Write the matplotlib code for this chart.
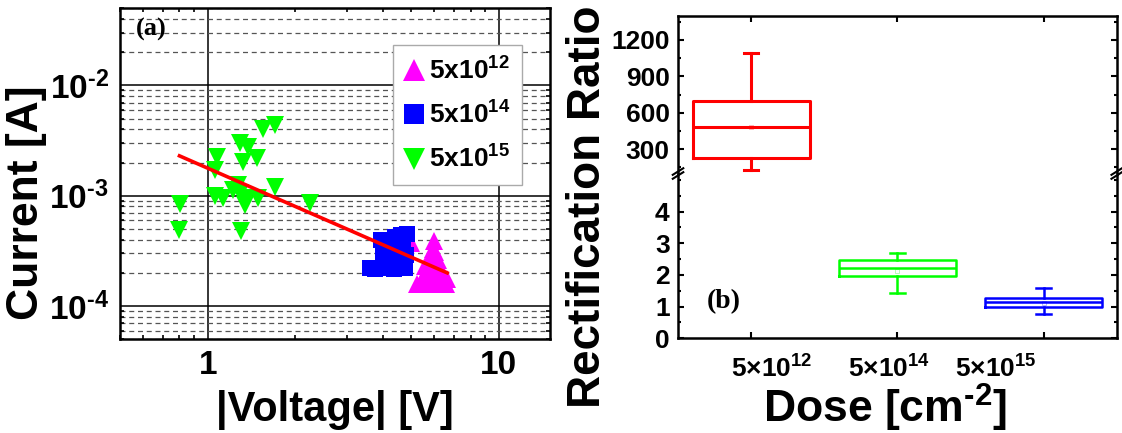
import numpy as np
import matplotlib
matplotlib.use('Agg')
import matplotlib.pyplot as plt
import matplotlib.transforms as mtransforms
from matplotlib.ticker import FixedLocator, LogLocator, MultipleLocator, NullFormatter, FuncFormatter

plt.rcParams['font.family'] = ['Liberation Sans', 'DejaVu Sans']
plt.rcParams['font.weight'] = 'bold'
plt.rcParams['mathtext.fontset'] = 'custom'
plt.rcParams['mathtext.rm'] = 'Liberation Sans:bold'
plt.rcParams['mathtext.it'] = 'Liberation Sans:bold'
plt.rcParams['mathtext.bf'] = 'Liberation Sans:bold'
plt.rcParams['mathtext.default'] = 'rm'

# ---- (a) |V| vs current ----
v_12 = [6.0, 5.95, 6.05, 5.8, 6.2, 5.6, 6.3, 5.9, 6.4, 5.5, 5.7, 6.0, 6.5, 6.3, 5.4, 6.6, 5.0, 6.1,
        5.25, 6.65]
i_12 = [3.9e-4, 3.3e-4, 3.1e-4, 2.7e-4, 2.6e-4, 2.3e-4, 2.2e-4, 2.1e-4, 1.9e-4, 1.8e-4,
        1.6e-4, 1.7e-4, 1.6e-4, 1.65e-4, 1.65e-4, 1.6e-4, 3.75e-4, 2.0e-4,
        1.6e-4, 1.75e-4]

v_14 = [3.6, 3.75, 3.95, 4.0, 4.0, 4.1, 4.2, 4.3, 4.35, 4.4, 4.5, 4.6, 4.7, 4.75, 4.85, 4.8, 3.95, 4.2]
i_14 = [2.2e-4, 2.15e-4, 2.2e-4, 2.9e-4, 3.6e-4, 2.5e-4, 3.9e-4, 3.2e-4, 2.15e-4, 4.2e-4,
        2.7e-4, 4.4e-4, 3.5e-4, 2.2e-4, 4.5e-4, 2.9e-4, 4.0e-4, 2.8e-4]

v_15 = [0.806, 0.80, 1.08, 1.06, 1.06, 1.13, 1.29, 1.38, 1.32, 1.48, 1.55, 1.70,
        1.27, 1.36, 1.34, 1.49, 1.70, 1.30, 2.25, 1.22, 1.29]
i_15 = [8.4e-4, 4.85e-4, 2.23e-3, 1.71e-3, 1.0e-3, 9.5e-4, 2.98e-3, 2.78e-3, 2.03e-3, 2.18e-3,
        4.07e-3, 4.35e-3, 1.25e-3, 9.5e-4, 8.3e-4, 9.5e-4, 1.19e-3, 4.75e-4, 8.6e-4, 1.13e-3, 1.05e-3]

fit_v = [0.80, 6.65]
fit_i = [2.3e-3, 2.0e-4]

# ---- (b) rectification ratio box plots ----
doses = ['5×10$^{12}$', '5×10$^{14}$', '5×10$^{15}$']
box_colors = ['#ff0000', '#00ff00', '#0000ff']
whis_lo = [131, 1.42, 0.76]
q1 = [224, 1.98, 1.00]
med = [482, 2.21, 1.14]
q3 = [695, 2.46, 1.28]
whis_hi = [1096, 2.70, 1.60]
means = [482, 2.13, 1.10]
box_lw = [2.2, 1.8, 1.8]
label_shift_px = [21, -8, -48]  # the original's dose labels sit off their ticks

HY = '\u2010'  # short hyphen for superscripts

fig = plt.figure(figsize=(11.22, 4.33), dpi=100)

# ---------------- panel (a) ----------------
ax = fig.add_axes([0.1070, 0.2164, 0.3832, 0.7644])
ax.plot(v_12, i_12, ls='none', marker='^', ms=13, mew=0, color='#ff00ff', label='5x10$^{12}$')
ax.plot(v_14, i_14, ls='none', marker='s', ms=11, mew=0, color='#0000ff', label='5x10$^{14}$')
ax.plot(v_15, i_15, ls='none', marker='v', ms=13, mew=0, color='#00ff00', label='5x10$^{15}$')
ax.plot(fit_v, fit_i, color='#ff0000', lw=2.6, zorder=5)
ax.set_xscale('log')
ax.set_yscale('log')
ax.set_xlim(0.5, 15)
ax.set_ylim(5e-5, 5e-2)
ax.xaxis.set_major_locator(FixedLocator([1, 10]))
ax.xaxis.set_major_formatter(FuncFormatter(lambda v, p: '%g' % v))
ax.xaxis.set_minor_locator(LogLocator(base=10, subs=np.arange(2, 10), numticks=20))
ax.xaxis.set_minor_formatter(NullFormatter())
ax.yaxis.set_major_locator(LogLocator(base=10, numticks=10))
ax.yaxis.set_major_formatter(FuncFormatter(
    lambda v, p: '10$^{%s%d}$' % (HY, abs(round(np.log10(v))))))
ax.yaxis.set_minor_locator(LogLocator(base=10, subs=np.arange(2, 10), numticks=20))
ax.yaxis.set_minor_formatter(NullFormatter())
ax.grid(True, which='major', color='black', lw=1.1)
ax.yaxis.grid(True, which='minor', color='#555555', lw=0.9, ls=(0, (4, 3)))
ax.set_axisbelow(True)
ax.tick_params(which='both', direction='in', top=True, right=True, labelsize=24)
ax.tick_params(which='major', length=0, pad=8)
ax.tick_params(which='minor', length=3, width=1.2)
for s in ax.spines.values():
    s.set_linewidth(1.8)
ax.text(0.036, 0.935, '(a)', transform=ax.transAxes, fontsize=19, fontweight='bold',
        family='Liberation Serif', va='center', ha='left')
leg = ax.legend(loc='upper left', bbox_to_anchor=(0.635, 0.889), borderaxespad=0,
                fontsize=19, frameon=True, fancybox=False, framealpha=1, edgecolor='#aaaaaa',
                handlelength=0.7, handletextpad=0.2, labelspacing=0.65, borderpad=0.45,
                markerscale=1.25)
leg.get_frame().set_linewidth(1.0)
fig.text(335 / 1122, 1 - 410 / 433, '|Voltage| [V]', fontsize=30, fontweight='bold',
         ha='center', va='center')
fig.text(27 / 1122, 1 - 203 / 433, 'Current [A]', fontsize=32, fontweight='bold',
         ha='center', va='center', rotation=90)

# ---------------- panel (b) ----------------
ax_hi = fig.add_axes([0.6043, 0.5993, 0.3910, 0.3644])
ax_lo = fig.add_axes([0.6043, 0.2187, 0.3910, 0.3806])
pos = [1, 2, 3]
for a in (ax_hi, ax_lo):
    for k in range(3):
        st = [dict(whislo=whis_lo[k], q1=q1[k], med=med[k], q3=q3[k], whishi=whis_hi[k],
                   mean=means[k], fliers=[])]
        c = box_colors[k]
        lw = box_lw[k]
        a.bxp(st, positions=[pos[k]], widths=0.8, capwidths=0.1, showmeans=True,
              boxprops=dict(color=c, lw=lw), whiskerprops=dict(color=c, lw=lw),
              capprops=dict(color=c, lw=lw), medianprops=dict(color=c, lw=lw),
              meanprops=dict(marker='s', ms=2.5, mfc='none', mec=c, mew=0.4, alpha=0.5))
    a.set_xlim(0.5, 3.5)
    a.tick_params(which='both', direction='in', top=True, right=True, labelsize=19, width=1.5)
    a.tick_params(which='major', length=4, pad=6)
    a.tick_params(which='minor', length=2.5)
    for s in a.spines.values():
        s.set_linewidth(1.8)

ax_hi.set_ylim(100, 1400)
ax_hi.yaxis.set_major_locator(FixedLocator([300, 600, 900, 1200]))
ax_hi.yaxis.set_minor_locator(MultipleLocator(150))
ax_hi.spines['bottom'].set_visible(False)
ax_hi.tick_params(axis='x', which='both', bottom=False, labelbottom=False)
ax_hi.set_xticks(pos)

ax_lo.set_ylim(0, 5.2)
ax_lo.yaxis.set_major_locator(FixedLocator([0, 1, 2, 3, 4]))
ax_lo.yaxis.set_minor_locator(MultipleLocator(0.5))
ax_lo.spines['top'].set_visible(False)
ax_lo.tick_params(axis='x', which='both', top=False)
ax_lo.set_xticks(pos)
ax_lo.set_xticklabels(doses, fontsize=19)
ax_lo.tick_params(axis='x', pad=12)
for lab, dx in zip(ax_lo.get_xticklabels(), label_shift_px):
    lab.set_transform(lab.get_transform() +
                      mtransforms.ScaledTranslation(dx / 100, 0, fig.dpi_scale_trans))

# break marks
for xb in (0, 1):
    for dy in (-0.012, 0.012):
        ax_lo.plot([xb - 0.012, xb + 0.012], [1 + dy - 0.02, 1 + dy + 0.02],
                   transform=ax_lo.transAxes, color='black', lw=1.5, clip_on=False)

ax_lo.text(0.066, 0.22, '(b)', transform=ax_lo.transAxes, fontsize=20, fontweight='bold',
           family='Liberation Serif', va='center', ha='left')

fig.text(588 / 1122, 1 - 207 / 433, 'Rectification Ratio', fontsize=33, fontweight='bold',
         ha='center', va='center', rotation=90)
fig.text(885 / 1122, 1 - 408 / 433, 'Dose [cm$^{%s2}$]' % HY, fontsize=32, fontweight='bold',
         ha='center', va='center')

fig.savefig('out.png', dpi=100)
